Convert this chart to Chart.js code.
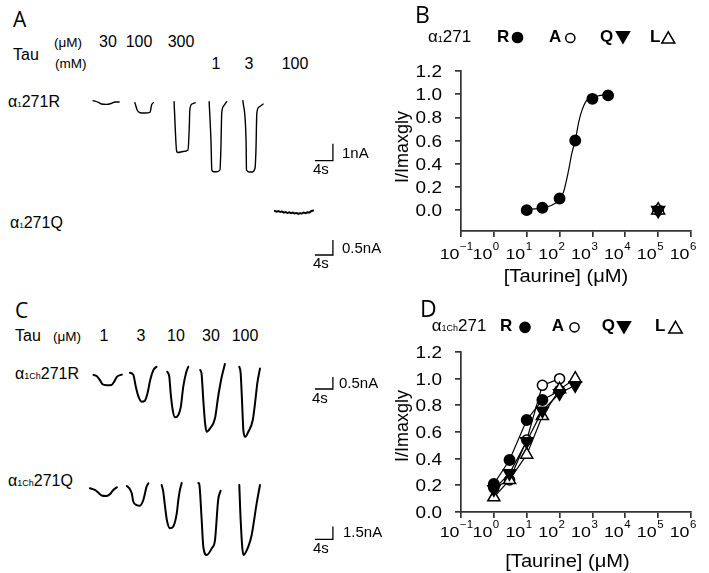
<!DOCTYPE html>
<html><head><meta charset="utf-8">
<script src="https://cdn.jsdelivr.net/npm/chart.js@4/dist/chart.umd.min.js"></script>
<style>
html,body{margin:0;padding:0;background:#fff;}
#wrap{position:relative;width:709px;height:573px;overflow:hidden;background:#fff;font-family:"Liberation Sans",Arial,sans-serif;color:#000;}
canvas{position:absolute;}
.t{position:absolute;white-space:nowrap;line-height:1;}
</style></head><body><div id="wrap"></div>
<script>
// ---------------- DATA ----------------
// Panel A: current traces (time s, current nA) for alpha1 271R, taurine 30uM,100uM,300uM,1mM,3mM
const traceA_R_30u  = [[2.9,0.08],[4.1,-0.02],[4.8,-0.12],[5.9,-0.14],[7.0,-0.08],[7.8,0.0],[8.7,0.0]];
const traceA_R_100u = [[12.2,-0.04],[12.7,-0.47],[13.3,-0.63],[14.4,-0.65],[15.6,-0.59],[15.9,-0.18],[16.3,-0.04]];
const traceA_R_300u = [[20.9,0.02],[21.5,-2.92],[21.8,-2.97],[22.9,-2.91],[24.0,-2.82],[24.3,-1.35],[24.4,-0.47],[24.9,-0.12],[25.6,-0.04]];
const traceA_R_1m   = [[28.7,0.02],[29.1,-2.24],[29.3,-4.0],[29.7,-4.1],[30.4,-4.1],[31.1,-4.0],[31.3,-2.82],[31.5,-0.65],[31.9,-0.24],[32.6,0.02]];
const traceA_R_3m   = [[36.2,0.08],[36.9,-2.24],[37.0,-4.0],[37.6,-4.12],[38.2,-4.12],[38.9,-3.88],[39.1,-2.82],[39.3,-0.65],[39.8,-0.29],[40.7,-0.12]];
// alpha1 271Q, taurine 100 mM
const traceA_Q_100m = [[43.3,0.03],[43.7,0.0],[44.1,0.02],[44.5,-0.01],[44.9,0.01],[45.3,-0.03],[45.7,-0.01],[46.1,-0.04],[46.5,-0.02],[46.9,-0.05],[47.3,-0.03],[47.7,-0.06],[48.1,-0.04],[48.5,-0.07],[48.9,-0.05],[49.3,-0.06],[49.7,-0.03],[50.1,-0.05],[50.5,-0.02],[50.9,-0.03],[51.3,0.01],[51.8,0.04]];
// Panel C: alpha1Ch 271R, taurine 1,3,10,30,100 uM
const traceC_R_1   = [[3.0,-0.12],[3.7,-0.17],[4.4,-0.33],[5.0,-0.51],[5.9,-0.55],[7.0,-0.54],[7.6,-0.40],[8.2,-0.20],[9.3,-0.11]];
const traceC_R_3   = [[11.1,-0.03],[11.85,-0.12],[12.4,-0.61],[13.0,-1.03],[13.7,-1.24],[14.4,-1.2],[15.0,-0.89],[15.6,-0.33],[16.3,0.08],[17.0,0.22]];
const traceC_R_10  = [[19.4,0.01],[19.85,-0.2],[20.15,-0.89],[20.6,-1.58],[21.1,-1.89],[21.85,-1.79],[22.4,-1.45],[22.95,-0.61],[23.55,-0.05],[24.07,0.22]];
const traceC_R_30  = [[26.7,0.08],[27.0,-0.05],[27.4,-1.17],[27.8,-2.14],[28.15,-2.49],[28.9,-2.35],[30.0,-1.93],[30.7,-1.03],[31.5,-0.2],[32.2,0.33]];
const traceC_R_100 = [[35.4,0.22],[35.7,-0.05],[36.0,-1.17],[36.3,-2.42],[36.7,-2.7],[37.4,-2.49],[38.4,-2.0],[38.9,-1.3],[39.4,-0.47],[40.0,0.15]];
// alpha1Ch 271Q
const traceC_Q_1   = [[2.2,-0.15],[3.3,-0.35],[4.1,-0.67],[4.8,-1.0],[5.9,-1.06],[6.7,-0.82],[7.4,-0.35],[8.2,-0.04]];
const traceC_Q_3   = [[10.4,0.12],[10.95,-0.15],[11.5,-0.74],[11.85,-1.73],[12.6,-2.12],[13.3,-2.2],[14.07,-1.53],[14.8,0.04],[15.2,0.44]];
const traceC_Q_10  = [[18.15,0.24],[18.5,-0.55],[18.9,-2.31],[19.3,-3.88],[20.0,-4.86],[20.7,-4.67],[21.5,-3.1],[21.85,-1.53],[22.2,-0.35],[22.6,0.47]];
const traceC_Q_30  = [[26.3,0.47],[26.5,0.35],[27.0,-3.5],[27.4,-7.0],[28.15,-8.0],[29.3,-7.2],[30.0,-6.24],[30.7,-1.53],[31.25,-0.44]];
const traceC_Q_100 = [[35.4,0.24],[35.7,-3.88],[36.3,-8.0],[37.4,-7.02],[38.15,-5.65],[39.26,-1.92],[40.0,0.24]];
// scale bars: 4 s and current bar (nA)
const barTime = 4;
const barA_R = 1.0, barA_Q = 0.5, barC_R = 0.5, barC_Q = 1.5;

// Panel B: normalized response vs taurine (uM)
const concB_R = [10, 30, 100, 300, 1000, 3000];
const respB_R = [0.0, 0.02, 0.10, 0.60, 0.96, 0.99];
const concB_AQL = [100000];
const respB_A = [0.0];
const respB_Q = [0.0];
const respB_L = [0.0];
const fitB_conc = [10, 30, 60, 100, 133, 187, 236, 300, 383, 480, 686, 1000, 1750, 3000];
const fitB_resp = [0.005, 0.02, 0.045, 0.09, 0.16, 0.34, 0.49, 0.60, 0.76, 0.86, 0.95, 0.97, 0.99, 0.995];

// Panel D
const concD = [1, 3, 10, 30, 100, 300];
const respD_R = [0.21, 0.39, 0.69, 0.84, 0.91, null];
const respD_A = [0.18, 0.24, 0.54, 0.95, 1.00, null];
const respD_Q = [0.17, 0.29, 0.53, 0.76, 0.89, 0.95];
const respD_L = [0.11, 0.24, 0.43, 0.72, 0.92, 1.00];

const yTicks = [0, 0.2, 0.4, 0.6, 0.8, 1.0, 1.2];
const xDecades = [-1, 0, 1, 2, 3, 4, 5, 6];

// ---------------- HELPERS ----------------
const wrap = document.getElementById('wrap');
function txt(html, x, base, size, o) {
  o = o || {};
  const d = document.createElement('div');
  d.className = 't';
  d.innerHTML = html;
  const fam = o.font || '"Liberation Sans", Arial, sans-serif';
  const asc = o.font === '"Open Sans"' ? 0.888 : 0.847;
  d.style.fontFamily = fam;
  d.style.fontSize = size + 'px';
  if (o.bold) d.style.fontWeight = 'bold';
  d.style.top = (base - asc * size) + 'px';
  d.style.left = x + 'px';
  const sx = o.sx || 1;
  if (o.align === 'center') { d.style.transformOrigin = '50% 50%'; d.style.transform = 'translateX(-50%) scaleX(' + sx + ')'; }
  else { d.style.transformOrigin = '0 50%'; d.style.transform = 'scaleX(' + sx + ')'; }
  wrap.appendChild(d);
  return d;
}
function mkCanvas(left, top, w, h) {
  const c = document.createElement('canvas');
  c.width = w; c.height = h;
  c.style.left = left + 'px'; c.style.top = top + 'px';
  c.style.width = w + 'px'; c.style.height = h + 'px';
  wrap.appendChild(c);
  return c;
}
const pts = arr => arr.map(p => ({x: p[0], y: p[1]}));

function traceChart(left, top, w, h, traces, pxPerSec, pxPerNA, baseFromTop, lw) {
  const c = mkCanvas(left, top, w, h);
  const ymax = baseFromTop / pxPerNA, ymin = -(h - baseFromTop) / pxPerNA;
  const xmax = w / pxPerSec;
  const ds = traces.map(tr => ({data: pts(tr), showLine: true, pointRadius: 0, borderColor: '#000',
    borderWidth: lw, cubicInterpolationMode: 'monotone', borderJoinStyle: 'round', borderCapStyle: 'round'}));
  return {c, ymin, ymax, xmax, ds};
}
function finishTrace(t, bar) {
  t.ds.push({data: pts(bar), showLine: true, pointRadius: 0, borderColor: '#000', borderWidth: 1.3, tension: 0});
  new Chart(t.c, {type: 'scatter', data: {datasets: t.ds}, options: {
    responsive: false, maintainAspectRatio: false, animation: false, events: [],
    layout: {padding: 0, autoPadding: false},
    plugins: {legend: {display: false}, tooltip: {enabled: false}},
    scales: {x: {type: 'linear', display: false, min: 0, max: t.xmax}, y: {type: 'linear', display: false, min: t.ymin, max: t.ymax}}
  }});
}

// Panel A / C traces
const pxs = 4.5;
let tA_R = traceChart(80, 80, 280, 100, [traceA_R_30u, traceA_R_100u, traceA_R_300u, traceA_R_1m, traceA_R_3m], pxs, 17, 22, 1.4);
finishTrace(tA_R, [[52.2, -3.45], [52.2 + barTime, -3.45], [52.2 + barTime, -3.45 + barA_R]]);
let tA_Q = traceChart(80, 190, 280, 80, [traceA_Q_100m], pxs, 30, 21.7, 2.0);
finishTrace(tA_Q, [[52.2, -1.443], [52.2 + barTime, -1.443], [52.2 + barTime, -1.443 + barA_Q]]);
let tC_R = traceChart(80, 355, 280, 90, [traceC_R_1, traceC_R_3, traceC_R_10, traceC_R_30, traceC_R_100], pxs, 24, 17, 2);
finishTrace(tC_R, [[52.2, -0.708], [52.2 + barTime, -0.708], [52.2 + barTime, -0.708 + barC_R]]);
let tC_Q = traceChart(80, 470, 280, 100, [traceC_Q_1, traceC_Q_3, traceC_Q_10, traceC_Q_30, traceC_Q_100], pxs, 8.5, 17, 2);
finishTrace(tC_Q, [[52.2, -6.15], [52.2 + barTime, -6.15], [52.2 + barTime, -6.15 + barC_Q]]);

// ---------------- dose-response charts ----------------
function drawMarker(ctx, style, x, y, r, filled) {
  ctx.save();
  ctx.beginPath();
  if (style === 'circle') ctx.arc(x, y, r, 0, Math.PI * 2);
  else {
    const rot = style === 'down' ? Math.PI : 0;
    for (let i = 0; i < 3; i++) {
      const a = rot + i * 2 * Math.PI / 3;
      const px = x + Math.sin(a) * r, py = y - Math.cos(a) * r;
      if (i === 0) ctx.moveTo(px, py); else ctx.lineTo(px, py);
    }
    ctx.closePath();
  }
  ctx.fillStyle = filled ? '#000' : '#fff';
  ctx.fill();
  ctx.lineWidth = 1.5; ctx.strokeStyle = '#000';
  ctx.stroke();
  ctx.restore();
}

function sText(ctx, s, x, y, font, sx, align) {
  ctx.save();
  ctx.font = font;
  ctx.translate(x, y);
  ctx.scale(sx, 1);
  ctx.textAlign = align || 'left';
  ctx.textBaseline = 'alphabetic';
  ctx.fillStyle = '#000';
  ctx.fillText(s, 0, 0);
  ctx.restore();
}

function doseChart(left, top, w, h, area, yMin, datasets, cfg) {
  const c = mkCanvas(left, top, w, h);
  const textPlugin = {
    id: 'axText',
    afterDraw(chart) {
      const ctx = chart.ctx, ca = chart.chartArea;
      const xs = chart.scales.x, ys = chart.scales.y;
      const F = '"Liberation Sans", Arial, sans-serif';
      yTicks.forEach(v => {
        const py = ys.getPixelForValue(v);
        sText(ctx, v.toFixed(1), ca.left - 19, py + 6, '16.5px ' + F, cfg.sx, 'right');
      });
      xDecades.forEach(e => {
        const px = xs.getPixelForValue(Math.pow(10, e));
        const base = ca.bottom + cfg.xLabOff;
        sText(ctx, '10', px - 1.5, base, '15.5px ' + F, cfg.sx, 'right');
        sText(ctx, e < 0 ? '\u2212' + (-e) : String(e), px - 1, base - 9, '10px ' + F, cfg.sx, 'left');
      });
      sText(ctx, '[Taurine] (\u03bcM)', cfg.xTitleX - left, cfg.xTitleBase - top, '17.5px ' + F, cfg.sx, 'center');
      ctx.save();
      ctx.translate(cfg.yTitleX - left, cfg.yTitleY - top);
      ctx.rotate(-Math.PI / 2);
      ctx.font = '18px ' + F; ctx.textAlign = 'center'; ctx.textBaseline = 'middle'; ctx.fillStyle = '#000';
      ctx.fillText('I/Imaxgly', 0, 0);
      ctx.restore();
      cfg.legend.forEach(m => drawMarker(ctx, m[0], m[1] - left, m[2] - top, m[3], m[4]));
    }
  };
  const axisCommon = {
    ticks: {display: false},
    grid: {drawOnChartArea: false, drawTicks: true, tickLength: 6, color: '#333', lineWidth: 1.7},
    border: {display: true, color: '#333', width: 1.7}
  };
  new Chart(c, {type: 'scatter', data: {datasets}, options: {
    responsive: false, maintainAspectRatio: false, animation: false, events: [],
    layout: {padding: {left: 0, top: area.top - top, right: left + w - area.right, bottom: 0}, autoPadding: false},
    plugins: {legend: {display: false}, tooltip: {enabled: false}},
    scales: {
      x: Object.assign({type: 'logarithmic', min: 0.1, max: 1e6,
        afterBuildTicks: s => { s.ticks = xDecades.map(e => ({value: Math.pow(10, e)})); },
        afterFit: s => { s.height = top + h - area.bottom; }}, axisCommon),
      y: Object.assign({type: 'linear', min: yMin, max: 1.2,
        afterBuildTicks: s => { s.ticks = yTicks.map(v => ({value: v})); },
        afterFit: s => { s.width = area.left - left; }}, axisCommon)
    }
  }, plugins: [textPlugin]});
}

function series(xs, ys, style, filled, r, line) {
  const data = [];
  xs.forEach((x, i) => { if (ys[i] !== null && ys[i] !== undefined) data.push({x, y: ys[i]}); });
  return {data, showLine: !!line, borderColor: '#000', borderWidth: 1.2, tension: 0,
    pointStyle: style === 'circle' ? 'circle' : 'triangle', pointRotation: style === 'down' ? 180 : 0,
    pointRadius: r, pointBorderWidth: 1.5, pointBorderColor: '#000',
    pointBackgroundColor: filled ? '#000' : '#fff'};
}

// Panel B  (dataset 0 is drawn on top)
doseChart(360, 0, 349, 290, {left: 461, right: 691, top: 71, bottom: 231}, -0.18, [
  series(concB_R, respB_R, 'circle', true, 5.2),
  series(concB_AQL, respB_Q, 'down', true, 7.5),
  series(concB_AQL, respB_L, 'up', false, 7.5),
  series(concB_AQL, respB_A, 'circle', false, 5.2),
  {data: fitB_conc.map((x, i) => ({x, y: fitB_resp[i]})), showLine: true, pointRadius: 0, borderColor: '#000', borderWidth: 1.2, cubicInterpolationMode: 'monotone'}
], {sx: 1.15, xLabOff: 28, xTitleX: 566, xTitleBase: 281.5, yTitleX: 403, yTitleY: 147,
  legend: [['circle', 517.5, 37.5, 5.1, true], ['circle', 570.3, 38, 4.6, false], ['down', 623, 35.6, 7.5, true], ['up', 668.3, 39.3, 7.5, false]]});

// Panel D
doseChart(360, 290, 349, 283, {left: 461, right: 691, top: 352, bottom: 512}, 0, [
  series(concD, respD_Q, 'down', true, 7, true),
  series(concD, respD_L, 'up', false, 7, true),
  series(concD, respD_R, 'circle', true, 5.2, true),
  series(concD, respD_A, 'circle', false, 5, true)
], {sx: 1.15, xLabOff: 25, xTitleX: 567.5, xTitleBase: 566.7, yTitleX: 403, yTitleY: 426,
  legend: [['circle', 525, 327.3, 5.1, true], ['circle', 574.5, 327.3, 4.6, false], ['down', 624, 325.6, 7.5, true], ['up', 675.5, 329.1, 7.8, false]]});

// ---------------- TEXT ----------------
const OS = '"Open Sans"';
txt('A', 13, 28, 21, {font: OS});
txt('Tau', 13, 61, 16);
txt('(\u03bcM)', 54, 47.5, 13.5);
txt('30', 108, 48, 16, {align: 'center'});
txt('100', 139, 48, 16, {align: 'center'});
txt('300', 181, 48, 16, {align: 'center'});
txt('(mM)', 55, 68, 13.5);
txt('1', 216, 70, 16, {align: 'center'});
txt('3', 249, 70, 16, {align: 'center'});
txt('100', 295, 70, 16, {align: 'center'});
txt('\u03b1<span style="font-size:8px">1</span>271R', 8, 108, 16);
txt('\u03b1<span style="font-size:8px">1</span>271Q', 10, 229, 16);
txt('4s', 313, 174, 15);
txt('1nA', 342, 158, 15);
txt('4s', 313, 268, 15);
txt('0.5nA', 342, 253, 15);

txt('C', 15, 319, 21, {font: OS});
txt('Tau', 15, 342, 16);
txt('(\u03bcM)', 53, 341, 13.5);
txt('1', 104, 342, 16, {align: 'center'});
txt('3', 141, 342, 16, {align: 'center'});
txt('10', 176, 342, 16, {align: 'center'});
txt('30', 211, 342, 16, {align: 'center'});
txt('100', 245, 342, 16, {align: 'center'});
txt('\u03b1<span style="font-size:9px">1Ch</span>271R', 15, 380, 16);
txt('\u03b1<span style="font-size:9px">1Ch</span>271Q', 8, 487, 16);
txt('4s', 312, 403, 15);
txt('0.5nA', 339, 388, 15);
txt('4s', 313, 553, 15);
txt('1.5nA', 343, 537, 15);

txt('B', 415, 23, 23, {font: OS});
txt('\u03b1<span style="font-size:9px">1</span>271', 428, 42.7, 17);
txt('R', 497, 42.7, 17, {bold: true});
txt('A', 549, 42.7, 17, {bold: true});
txt('Q', 600, 42.7, 17, {bold: true});
txt('L', 650, 42.7, 17, {bold: true});

txt('D', 420, 317, 23, {font: OS});
txt('\u03b1<span style="font-size:9px">1Ch</span>271', 431.7, 331.7, 17);
txt('R', 500, 331.7, 17, {bold: true});
txt('A', 551.7, 331.7, 17, {bold: true});
txt('Q', 601.7, 331.7, 17, {bold: true});
txt('L', 655, 331.7, 17, {bold: true});
</script></body></html>
